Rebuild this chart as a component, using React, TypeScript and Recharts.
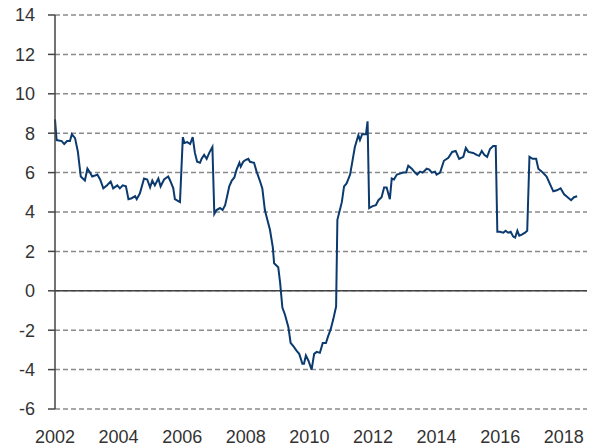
import {
  LineChart,
  Line,
  XAxis,
  YAxis,
  CartesianGrid,
  ReferenceLine,
} from "recharts";

// decimal year of each traced point
const years = [
  2002.0, 2002.05, 2002.21, 2002.29, 2002.38, 2002.47, 2002.53, 2002.63, 2002.72, 2002.81,
  2002.94, 2003.02, 2003.1, 2003.17, 2003.26, 2003.33, 2003.42, 2003.52, 2003.63, 2003.75,
  2003.83, 2003.96, 2004.04, 2004.13, 2004.23, 2004.31, 2004.41, 2004.52, 2004.57, 2004.67,
  2004.8, 2004.9, 2004.99, 2005.06, 2005.14, 2005.25, 2005.32, 2005.43, 2005.56, 2005.62,
  2005.72, 2005.77, 2005.93, 2006.02, 2006.07, 2006.16, 2006.25, 2006.33, 2006.4, 2006.47,
  2006.56, 2006.61, 2006.69, 2006.77, 2006.85, 2006.95, 2007.01, 2007.08, 2007.19, 2007.27,
  2007.35, 2007.42, 2007.48, 2007.56, 2007.64, 2007.71, 2007.8, 2007.84, 2007.92, 2008.0,
  2008.08, 2008.13, 2008.26, 2008.34, 2008.45, 2008.52, 2008.6, 2008.68, 2008.76, 2008.85,
  2008.89, 2009.02, 2009.08, 2009.15, 2009.23, 2009.34, 2009.41, 2009.49, 2009.6, 2009.68,
  2009.78, 2009.83, 2009.89, 2009.97, 2010.07, 2010.15, 2010.23, 2010.33, 2010.42, 2010.52,
  2010.59, 2010.67, 2010.75, 2010.84, 2010.88, 2011.02, 2011.09, 2011.17, 2011.28, 2011.36,
  2011.43, 2011.54, 2011.59, 2011.66, 2011.78, 2011.83, 2011.88, 2011.99, 2012.09, 2012.17,
  2012.27, 2012.35, 2012.43, 2012.53, 2012.59, 2012.66, 2012.75, 2012.85, 2012.95, 2013.04,
  2013.11, 2013.22, 2013.32, 2013.39, 2013.48, 2013.56, 2013.69, 2013.77, 2013.85, 2013.95,
  2014.0, 2014.11, 2014.23, 2014.37, 2014.49, 2014.6, 2014.71, 2014.84, 2014.92, 2015.0,
  2015.15, 2015.26, 2015.34, 2015.42, 2015.5, 2015.59, 2015.68, 2015.78, 2015.86, 2015.91,
  2015.99, 2016.1, 2016.17, 2016.25, 2016.33, 2016.41, 2016.47, 2016.54, 2016.6, 2016.68,
  2016.78, 2016.85, 2016.92, 2017.02, 2017.13, 2017.2, 2017.31, 2017.46, 2017.57, 2017.67,
  2017.78, 2017.9, 2018.01, 2018.12, 2018.23, 2018.32, 2018.42,
];

const rates = [
  8.7, 7.65, 7.6, 7.45, 7.6, 7.6, 7.95, 7.75, 7.05, 5.8,
  5.6, 6.2, 6.0, 5.8, 5.85, 5.9, 5.65, 5.2, 5.35, 5.55,
  5.2, 5.35, 5.2, 5.35, 5.3, 4.65, 4.7, 4.8, 4.65, 4.95,
  5.7, 5.65, 5.25, 5.6, 5.35, 5.7, 5.3, 5.65, 5.8, 5.6,
  5.2, 4.65, 4.5, 7.8, 7.5, 7.55, 7.45, 7.8, 7.0, 6.55,
  6.5, 6.7, 6.9, 6.7, 7.0, 7.3, 3.9, 4.1, 4.2, 4.1,
  4.35, 4.85, 5.3, 5.6, 5.75, 6.15, 6.5, 6.3, 6.55, 6.65,
  6.7, 6.55, 6.5, 6.05, 5.55, 5.2, 4.1, 3.6, 3.1, 2.2,
  1.4, 1.2, 0.4, -0.85, -1.2, -1.85, -2.65, -2.8, -3.05, -3.2,
  -3.7, -3.7, -3.28, -3.55, -4.0, -3.2, -3.1, -3.15, -2.65, -2.65,
  -2.3, -1.95, -1.45, -0.8, 3.6, 4.5, 5.3, 5.45, 5.9, 6.65,
  7.3, 7.9, 7.65, 7.95, 7.95, 8.6, 4.2, 4.3, 4.35, 4.6,
  4.75, 5.25, 5.25, 4.65, 5.7, 5.65, 5.9, 5.95, 6.0, 6.0,
  6.35, 6.2, 6.0, 5.9, 6.05, 6.0, 6.2, 6.15, 6.0, 6.05,
  5.9, 6.0, 6.6, 6.75, 7.05, 7.1, 6.7, 6.8, 7.25, 7.05,
  7.0, 6.9, 6.85, 7.1, 6.9, 6.8, 7.2, 7.35, 7.35, 3.0,
  3.0, 2.95, 3.05, 2.95, 3.0, 2.75, 2.7, 3.05, 2.8, 2.85,
  2.95, 3.05, 6.8, 6.7, 6.7, 6.2, 6.05, 5.8, 5.4, 5.05,
  5.1, 5.2, 4.9, 4.75, 4.6, 4.75, 4.8,
];

const xTicks = [2002, 2004, 2006, 2008, 2010, 2012, 2014, 2016, 2018];
const yTicks = [-6, -4, -2, 0, 2, 4, 6, 8, 10, 12, 14];

const data = years.map((year, i) => ({ year, rate: rates[i] }));

const tickStyle = { fill: "#333", fontSize: 18, fontFamily: "Liberation Sans, Arial, sans-serif" };

export default function App() {
  return (
    <div style={{ position: "absolute", left: 0, top: 0, background: "#fff" }}>
      <LineChart
        width={599}
        height={448}
        data={data}
        margin={{ top: 15, right: 12, bottom: 0, left: 0 }}
      >
        <CartesianGrid
          vertical={false}
          stroke="#8a8a8a"
          strokeWidth={1.5}
          strokeDasharray="5 3"
        />
        <XAxis
          dataKey="year"
          type="number"
          domain={[2002, 2018.73]}
          ticks={xTicks}
          axisLine={false}
          tickLine={false}
          tickSize={0}
          tickMargin={21}
          height={39}
          tick={tickStyle}
          interval={0}
        />
        <YAxis
          type="number"
          domain={[-6, 14]}
          ticks={yTicks}
          width={55}
          interval={0}
          axisLine={{ stroke: "#444", strokeWidth: 1.5 }}
          tickLine={{ stroke: "#444", strokeWidth: 1.5 }}
          tickSize={7}
          tickMargin={13}
          tick={tickStyle}
        />
        <ReferenceLine y={0} stroke="#444" strokeWidth={1.5} />
        <Line
          type="linear"
          dataKey="rate"
          stroke="#0b3a6f"
          strokeWidth={2}
          dot={false}
          isAnimationActive={false}
        />
      </LineChart>
    </div>
  );
}
